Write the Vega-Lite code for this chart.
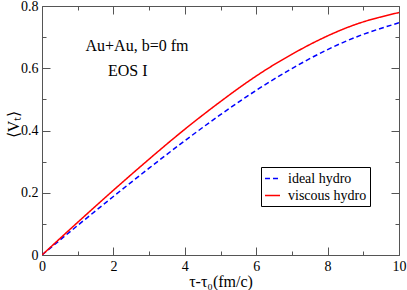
{
  "$schema": "https://vega.github.io/schema/vega-lite/v6.json",
  "width": 357,
  "height": 249,
  "autosize": {"type": "none"},
  "padding": {"left": 42, "top": 6, "right": 9, "bottom": 35},
  "background": "white",
  "config": {
    "font": "Liberation Serif",
    "view": {"stroke": "#555", "strokeWidth": 1},
    "axis": {"domain": false, "grid": false, "tickColor": "#555", "labelColor": "black", "titleColor": "black", "labelFont": "Liberation Serif", "titleFont": "Liberation Serif", "labelFontSize": 14, "titleFontSize": 16, "titleFontWeight": "normal"}
  },
  "layer": [
    {
      "data": {"values": [
        {"t": 0, "v": 0, "model": "ideal hydro"},
        {"t": 1, "v": 0.095, "model": "ideal hydro"},
        {"t": 2, "v": 0.188, "model": "ideal hydro"},
        {"t": 3, "v": 0.279, "model": "ideal hydro"},
        {"t": 4, "v": 0.367, "model": "ideal hydro"},
        {"t": 5, "v": 0.451, "model": "ideal hydro"},
        {"t": 6, "v": 0.529, "model": "ideal hydro"},
        {"t": 7, "v": 0.599, "model": "ideal hydro"},
        {"t": 8, "v": 0.66, "model": "ideal hydro"},
        {"t": 9, "v": 0.709, "model": "ideal hydro"},
        {"t": 10, "v": 0.746, "model": "ideal hydro"},
        {"t": 0, "v": 0, "model": "viscous hydro"},
        {"t": 1, "v": 0.105, "model": "viscous hydro"},
        {"t": 2, "v": 0.208, "model": "viscous hydro"},
        {"t": 3, "v": 0.308, "model": "viscous hydro"},
        {"t": 4, "v": 0.404, "model": "viscous hydro"},
        {"t": 5, "v": 0.493, "model": "viscous hydro"},
        {"t": 6, "v": 0.575, "model": "viscous hydro"},
        {"t": 7, "v": 0.645, "model": "viscous hydro"},
        {"t": 8, "v": 0.704, "model": "viscous hydro"},
        {"t": 9, "v": 0.749, "model": "viscous hydro"},
        {"t": 10, "v": 0.779, "model": "viscous hydro"}
      ]},
      "mark": {"type": "line", "interpolate": "natural", "strokeWidth": 1.5, "clip": true},
      "encoding": {
        "x": {"field": "t", "type": "quantitative", "scale": {"domain": [0, 10], "nice": false, "zero": false},
          "axis": {"orient": "bottom", "title": "τ-τ₀(fm/c)", "values": [0,1,2,3,4,5,6,7,8,9,10], "labelExpr": "datum.value % 2 === 0 ? datum.label : ''", "tickSize": {"condition": {"test": "datum.value % 2 === 0", "value": -8}, "value": -4}, "labelPadding": 12, "titlePadding": 0, "labelFlush": false}},
        "y": {"field": "v", "type": "quantitative", "scale": {"domain": [0, 0.8], "nice": false},
          "axis": {"orient": "left", "title": "⟨Vₜ⟩", "values": [0,0.1,0.2,0.3,0.4,0.5,0.6,0.7,0.8], "labelExpr": "round(datum.value*10) % 2 === 0 ? (datum.value === 0 ? '0' : format(datum.value, '.1f')) : ''", "tickSize": {"condition": {"test": "round(datum.value*10) % 2 === 0", "value": -8}, "value": -4}, "labelPadding": 12, "titleX": -29, "titleY": 118, "titleBaseline": "middle", "labelFlush": false}},
        "color": {"field": "model", "type": "nominal", "scale": {"domain": ["ideal hydro", "viscous hydro"], "range": ["#0000ff", "#ff0000"]},
          "legend": {"title": null, "orient": "none", "legendX": 219, "legendY": 161, "strokeColor": "black", "fillColor": "white", "padding": 3, "symbolType": "stroke", "symbolSize": 225, "symbolStrokeWidth": 1.5, "labelFontSize": 14, "labelFont": "Liberation Serif", "rowPadding": 1, "labelOffset": 7}},
        "strokeDash": {"field": "model", "type": "nominal", "scale": {"domain": ["ideal hydro", "viscous hydro"], "range": [[5, 3], [1, 0]]}, "legend": {"title": null}}
      }
    },
    {
      "data": {"values": [
        {"label": "Au+Au, b=0 fm", "tx": 2.66, "ty": 0.671},
        {"label": "EOS I", "tx": 2.4, "ty": 0.59}
      ]},
      "mark": {"type": "text", "fontSize": 16, "font": "Liberation Serif", "color": "black", "align": "center", "baseline": "middle"},
      "encoding": {
        "x": {"field": "tx", "type": "quantitative", "scale": {"domain": [0, 10], "nice": false, "zero": false},
          "axis": {"orient": "top", "title": null, "labels": false, "values": [0,1,2,3,4,5,6,7,8,9,10], "tickSize": {"condition": {"test": "datum.value % 2 === 0", "value": -8}, "value": -4}}},
        "y": {"field": "ty", "type": "quantitative", "scale": {"domain": [0, 0.8], "nice": false},
          "axis": {"orient": "right", "title": null, "labels": false, "values": [0,0.1,0.2,0.3,0.4,0.5,0.6,0.7,0.8], "tickSize": {"condition": {"test": "round(datum.value*10) % 2 === 0", "value": -8}, "value": -4}}},
        "text": {"field": "label", "type": "nominal"}
      }
    }
  ],
  "resolve": {"axis": {"x": "independent", "y": "independent"}}
}
